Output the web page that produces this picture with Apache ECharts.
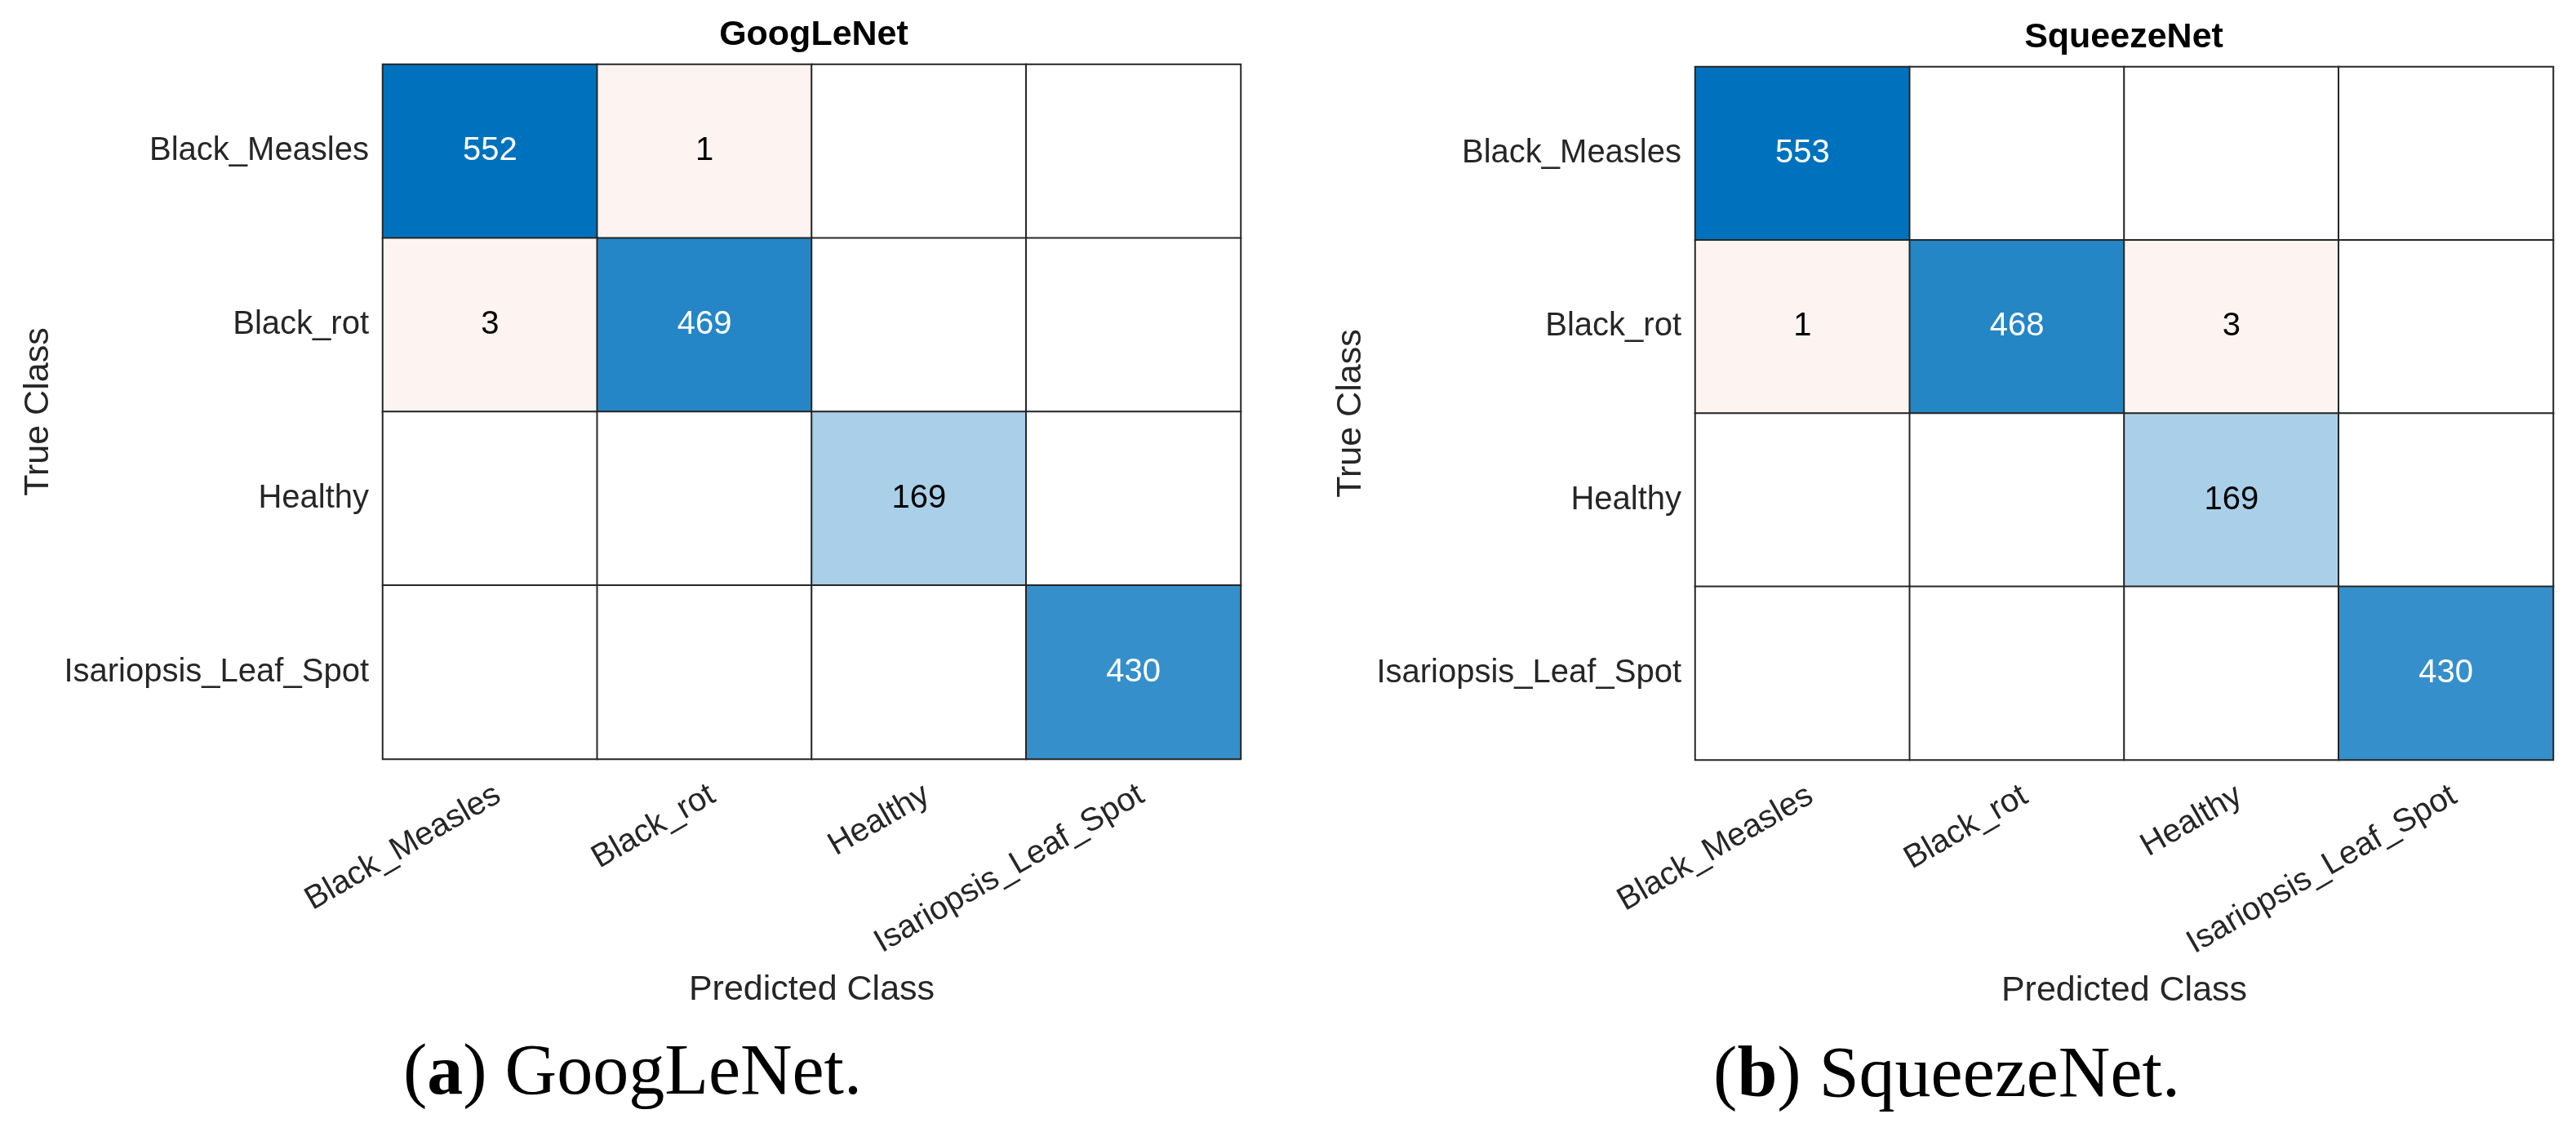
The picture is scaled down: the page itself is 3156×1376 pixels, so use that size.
<!DOCTYPE html>
<html>
<head>
<meta charset="utf-8">
<script src="https://cdn.jsdelivr.net/npm/echarts@6/dist/echarts.min.js"></script>
<style>
html,body{margin:0;padding:0;background:#fff;}
#chart{width:3156px;height:1376px;}
</style>
</head>
<body>
<div id="chart"></div>
<script>
// ---- data ----
const classes = ['Black_Measles', 'Black_rot', 'Healthy', 'Isariopsis_Leaf_Spot'];
const panelTitles = ['GoogLeNet', 'SqueezeNet'];
const captionLetters = ['a', 'b'];
const captionNames = ['GoogLeNet.', 'SqueezeNet.'];
// rows = true class, columns = predicted class
const googlenetMatrix = [
  [552, 1, 0, 0],
  [3, 469, 0, 0],
  [0, 0, 169, 0],
  [0, 0, 0, 430]
];
const squeezenetMatrix = [
  [553, 0, 0, 0],
  [1, 468, 3, 0],
  [0, 0, 169, 0],
  [0, 0, 0, 430]
];
const xAxisName = 'Predicted Class';
const yAxisName = 'True Class';

// ---- styling helpers ----
const SANS = 'Liberation Sans, Arial, Helvetica, sans-serif';
const SERIF = 'Liberation Serif, Times New Roman, serif';
const DIAG = [0, 114, 189];
function cellColor(v, r, c, maxV) {
  if (v === 0) return '#ffffff';
  if (r !== c) return '#fdf4f1';
  const t = Math.pow(v / maxV, 0.93);
  const ch = DIAG.map(d => Math.round(255 * (1 - t) + d * t));
  return 'rgb(' + ch.join(',') + ')';
}
function buildData(m) {
  let maxV = 0;
  m.forEach((row, r) => row.forEach((v, c) => { if (r === c && v > maxV) maxV = v; }));
  const out = [];
  m.forEach((row, r) => row.forEach((v, c) => {
    const t = r === c ? v / maxV : 0;
    out.push({
      value: [c, r, v],
      itemStyle: { color: cellColor(v, r, c, maxV) },
      label: { color: t > 0.5 ? '#ffffff' : '#000000' }
    });
  }));
  return out;
}

const grids = [
  { left: 469, top: 79, width: 1051, height: 851 },
  { left: 2077, top: 82, width: 1051, height: 849 }
];
const matrices = [googlenetMatrix, squeezenetMatrix];

const option = {
  backgroundColor: '#ffffff',
  animation: false,
  grid: grids,
  xAxis: grids.map((g, i) => ({
    type: 'category', gridIndex: i, data: classes,
    axisLine: { show: false }, axisTick: { show: false }, splitLine: { show: false },
    axisLabel: {
      rotate: 30, interval: 0, margin: 24, fontSize: 40, fontFamily: SANS, color: '#262626',
      align: 'right', verticalAlign: 'top'
    },
    name: xAxisName, nameLocation: 'middle', nameGap: 262,
    nameTextStyle: { fontSize: 43, fontFamily: SANS, color: '#262626' }
  })),
  yAxis: grids.map((g, i) => ({
    type: 'category', gridIndex: i, data: classes, inverse: true,
    axisLine: { show: false }, axisTick: { show: false }, splitLine: { show: false },
    axisLabel: { margin: 17, fontSize: 40, fontFamily: SANS, color: '#262626' },
    name: yAxisName, nameLocation: 'middle', nameGap: 400, nameRotate: 90,
    nameTextStyle: { fontSize: 43, fontFamily: SANS, color: '#262626' }
  })),
  series: matrices.map((m, i) => ({
    type: 'heatmap', xAxisIndex: i, yAxisIndex: i,
    data: buildData(m),
    itemStyle: { borderColor: '#262626', borderWidth: 2 },
    label: {
      show: true, fontSize: 40, fontFamily: SANS,
      formatter: p => (p.value[2] === 0 ? '' : String(p.value[2]))
    },
    emphasis: { disabled: true }
  })),
  graphic: [
    { type: 'text', x: 997, y: 43, style: { text: panelTitles[0], font: 'bold 43px ' + SANS, fill: '#000', align: 'center', verticalAlign: 'middle' } },
    { type: 'text', x: 2602, y: 46, style: { text: panelTitles[1], font: 'bold 43px ' + SANS, fill: '#000', align: 'center', verticalAlign: 'middle' } },
    { type: 'text', x: 775, y: 1317, style: {
        text: '{p|(}{b|' + captionLetters[0] + '}{p|) ' + captionNames[0] + '}',
        align: 'center', verticalAlign: 'middle',
        rich: { p: { fontFamily: SERIF, fontSize: 88, color: '#000' }, b: { fontFamily: SERIF, fontSize: 88, fontWeight: 'bold', color: '#000' } }
      } },
    { type: 'text', x: 2385, y: 1320, style: {
        text: '{p|(}{b|' + captionLetters[1] + '}{p|) ' + captionNames[1] + '}',
        align: 'center', verticalAlign: 'middle',
        rich: { p: { fontFamily: SERIF, fontSize: 88, color: '#000' }, b: { fontFamily: SERIF, fontSize: 88, fontWeight: 'bold', color: '#000' } }
      } }
  ]
};

const chart = echarts.init(document.getElementById('chart'), null, { renderer: 'canvas' });
chart.setOption(option);
</script>
</body>
</html>
